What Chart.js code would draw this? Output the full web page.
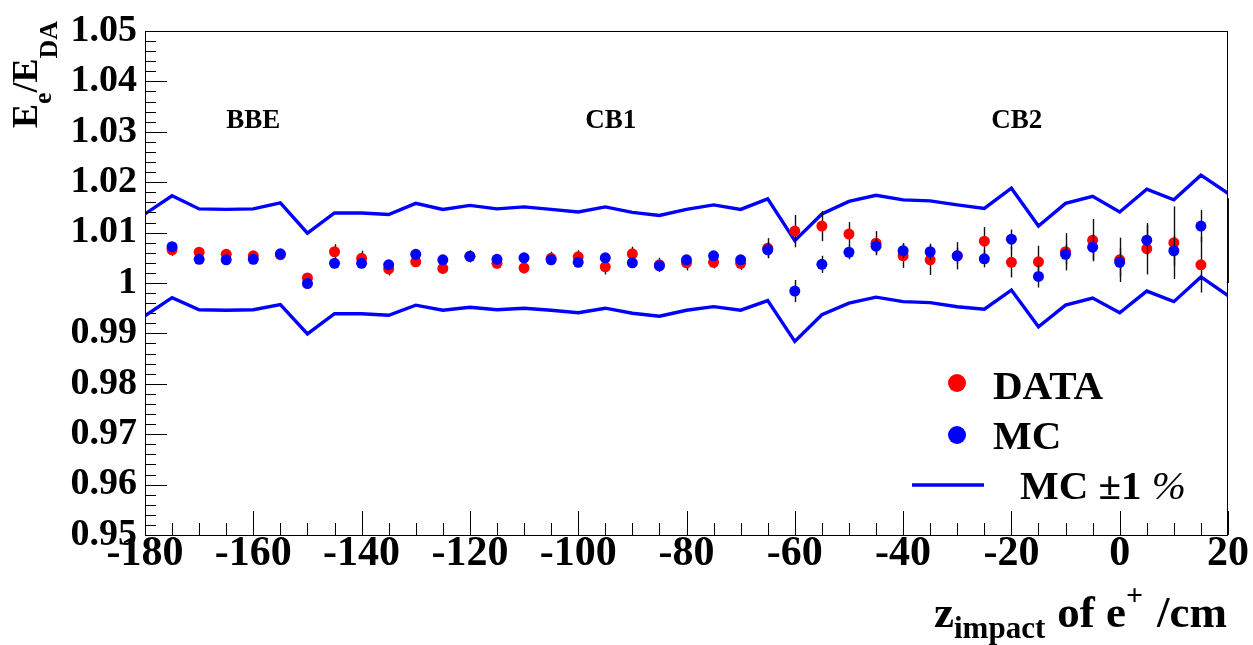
<!DOCTYPE html>
<html><head><meta charset="utf-8">
<script src="https://cdn.jsdelivr.net/npm/chart.js@4/dist/chart.umd.min.js"></script>
<style>html,body{margin:0;padding:0;background:#fff;}#wrap{width:1253px;height:645px;}</style>
</head><body><div id="wrap"><canvas id="c" width="1253" height="645"></canvas></div>
<script>
// ---- data ----
const zData = [-175,-170,-165,-160,-155,-150,-145,-140,-135,-130,-125,-120,-115,-110,-105,-100,-95,-90,-85,-80,-75,-70,-65,-60,-55,-50,-45,-40,-35,-30,-25,-20,-15,-10,-5,0,5,10,15,20];
const dataRatio = [1.0066,1.0061,1.0057,1.0054,1.0056,1.0010,1.0062,1.0049,1.0028,1.0042,1.0029,1.0053,1.0039,1.0030,1.0049,1.0052,1.0032,1.0058,1.0036,1.0040,1.0041,1.0039,1.0069,1.0103,1.0113,1.0097,1.0079,1.0054,1.0046,1.0054,1.0083,1.0041,1.0042,1.0062,1.0085,1.0046,1.0068,1.0080,1.0036,1.0084];
const dataErr = [0.0012,0.0007,0.0007,0.0007,0.0007,0.0008,0.0015,0.0015,0.0013,0.0010,0.0010,0.0012,0.0010,0.0011,0.0013,0.0013,0.0015,0.0014,0.0014,0.0015,0.0012,0.0013,0.0020,0.0032,0.0030,0.0024,0.0024,0.0024,0.0030,0.0027,0.0028,0.0030,0.0032,0.0037,0.0042,0.0044,0.0051,0.0072,0.0055,0.0084];

const zMC = [-175,-170,-165,-160,-155,-150,-145,-140,-135,-130,-125,-120,-115,-110,-105,-100,-95,-90,-85,-80,-75,-70,-65,-60,-55,-50,-45,-40,-35,-30,-25,-20,-15,-10,-5,0,5,10,15];
const mcRatio = [1.0072,1.0047,1.0046,1.0047,1.0058,0.9999,1.0039,1.0039,1.0036,1.0057,1.0046,1.0053,1.0047,1.0050,1.0046,1.0041,1.0050,1.0040,1.0034,1.0046,1.0054,1.0046,1.0066,0.9984,1.0037,1.0061,1.0073,1.0064,1.0062,1.0054,1.0048,1.0087,1.0013,1.0057,1.0071,1.0041,1.0085,1.0064,1.0113];
const mcErr = [0.0006,0.0006,0.0006,0.0006,0.0006,0.0006,0.0006,0.0006,0.0006,0.0006,0.0006,0.0006,0.0006,0.0006,0.0006,0.0006,0.0006,0.0006,0.0006,0.0006,0.0006,0.0006,0.0015,0.0022,0.0017,0.0014,0.0015,0.0015,0.0016,0.0016,0.0017,0.0019,0.0022,0.0020,0.0025,0.0028,0.0030,0.0030,0.0032];

const zBand = [-180,-175,-170,-165,-160,-155,-150,-145,-140,-135,-130,-125,-120,-115,-110,-105,-100,-95,-90,-85,-80,-75,-70,-65,-60,-55,-50,-45,-40,-35,-30,-25,-20,-15,-10,-5,0,5,10,15,20];
const bandUpper = [1.0137,1.0173,1.0147,1.0146,1.0147,1.0159,1.0099,1.0139,1.0139,1.0136,1.0158,1.0146,1.0154,1.0147,1.0151,1.0146,1.0141,1.0151,1.0140,1.0134,1.0146,1.0155,1.0146,1.0167,1.0084,1.0137,1.0162,1.0174,1.0165,1.0163,1.0155,1.0148,1.0188,1.0113,1.0158,1.0172,1.0141,1.0186,1.0165,1.0214,1.0178];
const bandLower = [0.9935,0.9971,0.9947,0.9946,0.9947,0.9957,0.9899,0.9939,0.9939,0.9936,0.9956,0.9946,0.9952,0.9947,0.9950,0.9946,0.9941,0.9950,0.9940,0.9934,0.9946,0.9953,0.9946,0.9965,0.9884,0.9937,0.9960,0.9972,0.9963,0.9961,0.9953,0.9948,0.9986,0.9913,0.9956,0.9970,0.9941,0.9984,0.9963,1.0012,0.9975];

const xTickValues = [-180,-160,-140,-120,-100,-80,-60,-40,-20,0,20];
const xTickLabels = ['-180','-160','-140','-120','-100','-80','-60','-40','-20','0','20'];
const yTickValues = [0.95,0.96,0.97,0.98,0.99,1.00,1.01,1.02,1.03,1.04,1.05];
const yTickLabels = ['0.95','0.96','0.97','0.98','0.99','1','1.01','1.02','1.03','1.04','1.05'];

const regionLabels = ['BBE','CB1','CB2'];
const regionZ = [-160,-94,-19];

const SERIF = '"Liberation Serif","Times New Roman",serif';
const pts = (xs, ys) => xs.map((x, i) => ({x: x, y: ys[i]}));

// ---- plugins ----
const errorBars = {
  id: 'errorBars',
  beforeDatasetDraw(chart, args) {
    const errs = chart.data.datasets[args.index].errs;
    if (!errs) return;
    const c = chart.ctx, xs = chart.scales.x, ys = chart.scales.y, a = chart.chartArea;
    c.save();
    c.beginPath(); c.rect(a.left, a.top, a.right - a.left + 1, a.bottom - a.top); c.clip();
    c.strokeStyle = '#111'; c.lineWidth = 1.4;
    chart.data.datasets[args.index].data.forEach((p, i) => {
      const px = Math.round(xs.getPixelForValue(p.x)) + 0.5;
      c.beginPath();
      c.moveTo(px, ys.getPixelForValue(p.y + errs[i]));
      c.lineTo(px, ys.getPixelForValue(p.y - errs[i]));
      c.stroke();
    });
    c.restore();
  }
};

const frameAndText = {
  id: 'frameAndText',
  afterDraw(chart) {
    const c = chart.ctx, a = chart.chartArea, xs = chart.scales.x, ys = chart.scales.y;
    c.save();
    // inward tick marks
    c.strokeStyle = '#000'; c.lineWidth = 1;
    for (let v = -180; v <= 20; v += 5) {
      const px = Math.round(xs.getPixelForValue(v)) + 0.5;
      const len = (v % 20 === 0) ? 24 : 12;
      c.beginPath(); c.moveTo(px, a.bottom); c.lineTo(px, a.bottom - len); c.stroke();
    }
    for (let i = 0; i <= 50; i++) {
      const py = Math.round(ys.getPixelForValue(0.95 + i * 0.002)) + 0.5;
      const len = (i % 5 === 0) ? 22 : 11;
      c.beginPath(); c.moveTo(a.left, py); c.lineTo(a.left + len, py); c.stroke();
    }
    // frame
    c.strokeRect(Math.round(a.left) + 0.5, Math.round(a.top) + 0.5, Math.round(a.right - a.left) - 1, Math.round(a.bottom - a.top));

    // region labels
    c.fillStyle = '#000';
    c.font = 'bold 27px ' + SERIF;
    c.textAlign = 'center'; c.textBaseline = 'alphabetic';
    regionLabels.forEach((t, i) => c.fillText(t, xs.getPixelForValue(regionZ[i]), 128));

    // legend
    c.textAlign = 'left';
    c.fillStyle = '#ff0000';
    c.beginPath(); c.arc(957, 383, 9, 0, Math.PI * 2); c.fill();
    c.fillStyle = '#0000ff';
    c.beginPath(); c.arc(957, 435, 9, 0, Math.PI * 2); c.fill();
    c.strokeStyle = '#0000ff'; c.lineWidth = 3.3;
    c.beginPath(); c.moveTo(912, 485); c.lineTo(984, 485); c.stroke();
    c.fillStyle = '#000';
    c.font = 'bold 41px ' + SERIF;
    c.fillText('DATA', 993, 399);
    c.fillText('MC', 993, 449);
    c.fillText('MC \u00b11 ', 1020, 499);
    const w = c.measureText('MC \u00b11 ').width;
    c.font = 'italic 41px ' + SERIF;
    c.fillText('%', 1020 + w, 499);

    // x title: z_impact of e+ /cm
    let x = 934; const by = 627;
    c.font = 'bold 45px ' + SERIF;
    c.fillText('z', x, by); x += c.measureText('z').width;
    c.font = 'bold 31px ' + SERIF;
    c.fillText('impact', x, by + 11); x += c.measureText('impact').width + 12;
    c.font = 'bold 45px ' + SERIF;
    c.fillText('of e', x, by); x += c.measureText('of e').width;
    c.font = 'bold 30px ' + SERIF;
    c.fillText('+', x, by - 22); x += c.measureText('+').width + 14;
    c.font = 'bold 45px ' + SERIF;
    c.fillText('/cm', x, by);

    // y title: E_e/E_DA (rotated)
    c.translate(37, 128);
    c.rotate(-Math.PI / 2);
    let t = 0;
    c.font = 'bold 36px ' + SERIF;
    c.fillText('E', t, 0); t += c.measureText('E').width;
    c.font = 'bold 26px ' + SERIF;
    c.fillText('e', t, 14); t += c.measureText('e').width;
    c.font = 'bold 36px ' + SERIF;
    c.fillText('/E', t, 0); t += c.measureText('/E').width;
    c.font = 'bold 26px ' + SERIF;
    c.fillText('DA', t, 20);
    c.restore();
  }
};

const ctx = document.getElementById('c').getContext('2d');
new Chart(ctx, {
  type: 'scatter',
  data: {
    datasets: [
      {label: 'MC +1 %', data: pts(zBand, bandUpper), showLine: true, borderColor: '#0000ff', borderWidth: 3.4, pointRadius: 0, order: 3},
      {label: 'MC -1 %', data: pts(zBand, bandLower), showLine: true, borderColor: '#0000ff', borderWidth: 3.4, pointRadius: 0, order: 3},
      {label: 'DATA', data: pts(zData, dataRatio), errs: dataErr, backgroundColor: '#ff0000', borderWidth: 0,
       pointRadius: c => (c.raw && c.raw.x >= 20) ? 0 : 5.5, order: 2},
      {label: 'MC', data: pts(zMC, mcRatio), errs: mcErr, backgroundColor: '#0000ff', borderWidth: 0, pointRadius: 5.5, order: 1}
    ]
  },
  options: {
    responsive: false,
    animation: false,
    layout: {padding: {top: 31, right: 25, left: 0, bottom: 0}},
    plugins: {legend: {display: false}, tooltip: {enabled: false}},
    scales: {
      x: {
        type: 'linear', min: -180, max: 20,
        afterBuildTicks: s => { s.ticks = xTickValues.map(v => ({value: v})); },
        afterFit: s => { s.height = 110; },
        ticks: {callback: (v, i) => xTickLabels[i], font: {family: SERIF, weight: 'bold', size: 42}, color: '#000', padding: -6, maxRotation: 0, autoSkip: false},
        grid: {display: false, drawTicks: false}, border: {display: false}
      },
      y: {
        type: 'linear', min: 0.95, max: 1.05,
        afterBuildTicks: s => { s.ticks = yTickValues.map(v => ({value: v})); },
        afterFit: s => { s.width = 145; },
        ticks: {callback: (v, i) => yTickLabels[i], font: {family: SERIF, weight: 'bold', size: 38}, color: '#000', padding: 8, autoSkip: false},
        grid: {display: false, drawTicks: false}, border: {display: false}
      }
    }
  },
  plugins: [errorBars, frameAndText]
});
</script></body></html>
